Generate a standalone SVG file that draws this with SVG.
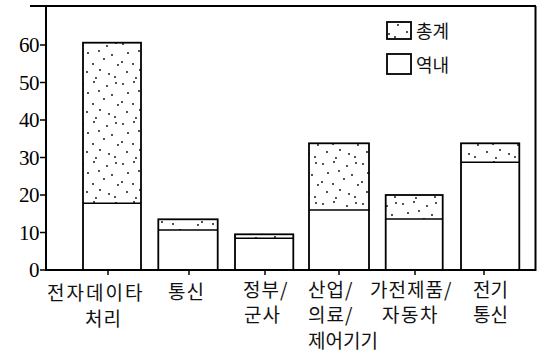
<svg xmlns="http://www.w3.org/2000/svg" width="537" height="356" viewBox="0 0 537 356">
<defs>
<pattern id="dots" patternUnits="userSpaceOnUse" width="40" height="40">
<circle cx="3" cy="4" r="0.9" fill="#000"/>
<circle cx="14" cy="2" r="0.9" fill="#000"/>
<circle cx="27" cy="6" r="0.9" fill="#000"/>
<circle cx="36" cy="3" r="0.9" fill="#000"/>
<circle cx="8" cy="13" r="0.9" fill="#000"/>
<circle cx="19" cy="11" r="0.9" fill="#000"/>
<circle cx="32" cy="15" r="0.9" fill="#000"/>
<circle cx="2" cy="22" r="0.9" fill="#000"/>
<circle cx="13" cy="24" r="0.9" fill="#000"/>
<circle cx="24" cy="19" r="0.9" fill="#000"/>
<circle cx="38" cy="25" r="0.9" fill="#000"/>
<circle cx="7" cy="32" r="0.9" fill="#000"/>
<circle cx="20" cy="30" r="0.9" fill="#000"/>
<circle cx="29" cy="34" r="0.9" fill="#000"/>
<circle cx="16" cy="38" r="0.9" fill="#000"/>
<circle cx="35" cy="37" r="0.9" fill="#000"/>
</pattern>
</defs>
<style>
.ax{stroke:#000;stroke-width:2;fill:none}
.tk{stroke:#000;stroke-width:1.5;fill:none}
.num{font-family:"Liberation Serif","Times New Roman","DejaVu Serif",serif;font-size:21px;fill:#000;text-anchor:end;letter-spacing:-0.5px}
.lab{font-family:"Noto Sans CJK KR",sans-serif;font-size:19px;fill:#111}
.leg{font-family:"Noto Sans CJK KR",sans-serif;font-size:18px;fill:#111}
.st{fill:url(#dots);stroke:none}
.ol{fill:none;stroke:#000;stroke-width:1.8}
.dv{stroke:#000;stroke-width:1.5}
</style>
<rect width="537" height="356" fill="#fff"/>
<g id="axes">
<line class="ax" x1="30" y1="6" x2="536" y2="6"/>
<line class="ax" x1="46" y1="6" x2="46" y2="271"/>
<line class="ax" x1="535.5" y1="6" x2="535.5" y2="271"/>
<line class="ax" x1="45" y1="270" x2="536" y2="270"/>
<line class="tk" x1="40" y1="45" x2="46" y2="45"/>
<line class="tk" x1="40" y1="82.5" x2="46" y2="82.5"/>
<line class="tk" x1="40" y1="120" x2="46" y2="120"/>
<line class="tk" x1="40" y1="157.5" x2="46" y2="157.5"/>
<line class="tk" x1="40" y1="195" x2="46" y2="195"/>
<line class="tk" x1="40" y1="232.5" x2="46" y2="232.5"/>
<line class="tk" x1="40" y1="270" x2="46" y2="270"/>
<line class="tk" x1="108" y1="270" x2="108" y2="275"/>
<line class="tk" x1="189" y1="270" x2="189" y2="275"/>
<line class="tk" x1="265" y1="270" x2="265" y2="275"/>
<line class="tk" x1="339" y1="270" x2="339" y2="275"/>
<line class="tk" x1="415" y1="270" x2="415" y2="275"/>
<line class="tk" x1="484" y1="270" x2="484" y2="275"/>
<text class="num" x="39" y="52">60</text>
<text class="num" x="39" y="89.5">50</text>
<text class="num" x="39" y="127">40</text>
<text class="num" x="39" y="164.5">30</text>
<text class="num" x="39" y="202">20</text>
<text class="num" x="39" y="239.5">10</text>
<text class="num" x="39" y="277">0</text>
</g>
<g id="legend">
<rect x="387" y="22" width="24" height="17" class="st"/>
<rect x="387" y="22" width="24" height="17" class="ol"/>
<text class="leg" x="416" y="38">총계</text>
<rect x="387" y="54" width="24" height="20" class="ol"/>
<text class="leg" x="416" y="72">역내</text>
</g>
<g id="bar1">
<rect x="83" y="42.7" width="58" height="160.6" class="st"/>
<rect x="83" y="42.7" width="58" height="227.3" class="ol"/>
<line class="dv" x1="83" y1="203.3" x2="141" y2="203.3"/>
<text class="lab" x="47" y="300" letter-spacing="2">전자데이타</text>
<text class="lab" x="85" y="326" letter-spacing="1">처리</text>
</g>
<g id="bar2">
<rect x="158.3" y="219.3" width="59.4" height="10.7" class="st"/>
<rect x="158.3" y="219.3" width="59.4" height="50.7" class="ol"/>
<line class="dv" x1="158.3" y1="230" x2="217.7" y2="230"/>
<text class="lab" x="168" y="299" letter-spacing="1">통신</text>
</g>
<g id="bar3">
<rect x="235" y="234.3" width="58.3" height="4" class="st"/>
<rect x="235" y="234.3" width="58.3" height="35.7" class="ol"/>
<line class="dv" x1="235" y1="238.3" x2="293.3" y2="238.3"/>
<text class="lab" x="243" y="297" letter-spacing="1">정부/</text>
<text class="lab" x="244" y="322" letter-spacing="1">군사</text>
</g>
<g id="bar4">
<rect x="309" y="143.3" width="60" height="66.7" class="st"/>
<rect x="309" y="143.3" width="60" height="126.7" class="ol"/>
<line class="dv" x1="309" y1="210" x2="369" y2="210"/>
<text class="lab" x="308" y="296.5" letter-spacing="1">산업/</text>
<text class="lab" x="308" y="321.5" letter-spacing="1">의료/</text>
<text class="lab" x="308" y="347.5">제어기기</text>
</g>
<g id="bar5">
<rect x="385.7" y="195" width="57" height="24" class="st"/>
<rect x="385.7" y="195" width="57" height="75" class="ol"/>
<line class="dv" x1="385.7" y1="219" x2="442.7" y2="219"/>
<text class="lab" x="370" y="297" letter-spacing="1">가전제품/</text>
<text class="lab" x="382" y="322" letter-spacing="1.5">자동차</text>
</g>
<g id="bar6">
<rect x="461" y="143.3" width="58.3" height="19" class="st"/>
<rect x="461" y="143.3" width="58.3" height="126.7" class="ol"/>
<line class="dv" x1="461" y1="162.3" x2="519.3" y2="162.3"/>
<text class="lab" x="473" y="297">전기</text>
<text class="lab" x="473" y="322">통신</text>
</g>
</svg>
